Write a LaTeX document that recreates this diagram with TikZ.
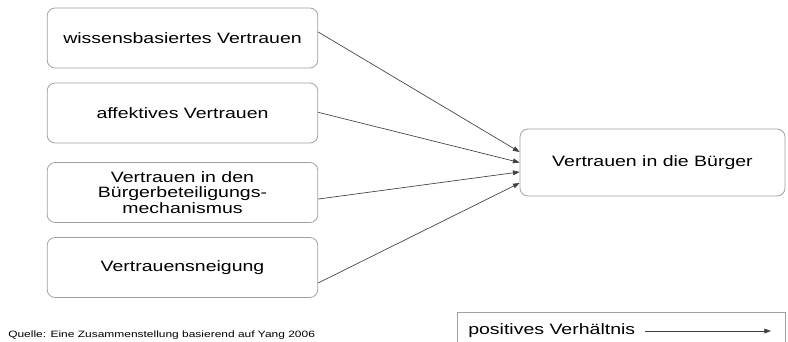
\documentclass[tikz,border=0pt]{standalone}
\usepackage{fontspec}
\setmainfont{Liberation Sans}[FakeStretch=1.3]
\usepackage{tikz}
\usetikzlibrary{arrows.meta,positioning}
\definecolor{boxgray}{HTML}{A0A0A0}
\definecolor{linegray}{HTML}{404040}

\begin{document}
\begin{tikzpicture}[x=0.75pt,y=-0.75pt,>={Triangle[length=5pt,width=3.6pt]},
    factor/.style={draw=boxgray,line width=0.6pt,rounded corners=6pt,
      minimum width=203pt,minimum height=45pt,align=center,
      font=\fontsize{11.25}{11.8}\selectfont,text=black},
    link/.style={->,draw=linegray,line width=0.5pt}]
  \useasboundingbox (0,0) rectangle (788,342);

  \node[factor] (wiss) at (182.5,38)    {wissensbasiertes Vertrauen};
  \node[factor] (affekt) at (182.5,113) {affektives Vertrauen};
  \node[factor] (mech) at (182.5,192.5) {Vertrauen in den\\Bürgerbeteiligungs-\\mechanismus};
  \node[factor] (neig) at (182.5,267.5) {Vertrauensneigung};
  \node[factor,minimum width=198.75pt,minimum height=50.25pt] (buerger) at (652.5,162.5) {Vertrauen in die Bürger};

  \draw[link] ([yshift=4.5pt]wiss.east)    -- ([yshift=7.9pt]buerger.west);
  \draw[link] ([yshift=0.5pt]affekt.east)  -- (buerger.west);
  \draw[link] ([yshift=-4.9pt]mech.east)   -- ([yshift=-7.1pt]buerger.west);
  \draw[link] ([yshift=-11.6pt]neig.east)  -- ([yshift=-15.4pt]buerger.west);

  % legende
  \node[draw=boxgray,line width=0.6pt,anchor=north west,minimum width=246pt,minimum height=30pt] (legende) at (457,312) {};
  \node[anchor=base west,inner sep=0pt,font=\fontsize{11.25}{13}\selectfont] (lgtext) at (468,334) {positives Verhältnis};
  \coordinate (lgstart) at (645,331);
  \coordinate (lgend) at (771,331);
  \draw[link] (lgstart) -- (lgend);

  \node[anchor=base west,inner sep=0pt,font=\fontsize{6.9}{8}\selectfont] (quelle) at (8,337) {Quelle: Eine Zusammenstellung basierend auf Yang 2006};
\end{tikzpicture}
\end{document}
